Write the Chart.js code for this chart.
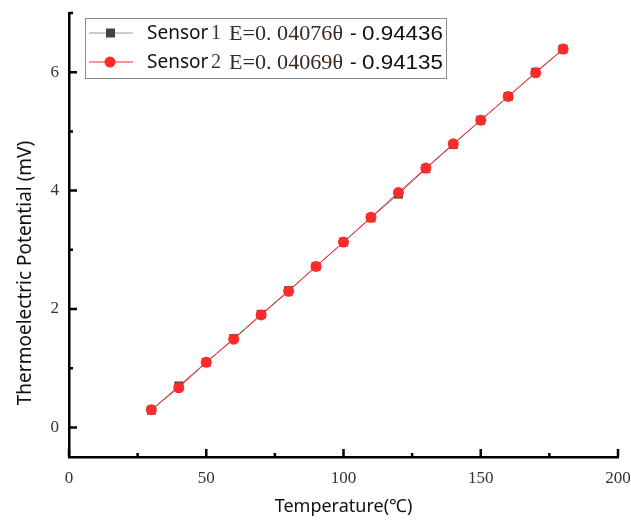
<!DOCTYPE html>
<html>
<head>
<meta charset="utf-8">
<script src="https://cdn.jsdelivr.net/npm/chart.js@4.4.1/dist/chart.umd.min.js"></script>
<style>
  html, body { margin: 0; padding: 0; background: #fff; }
  #wrap { width: 631px; height: 521px; }
</style>
</head>
<body>
<div id="wrap"><canvas id="Chart" width="631" height="521"></canvas></div>
<script>
// data
const temperatures = [30, 40, 50, 60, 70, 80, 90, 100, 110, 120, 130, 140, 150, 160, 170, 180];
const sensor1 = [0.29, 0.70, 1.10, 1.50, 1.91, 2.31, 2.72, 3.13, 3.54, 3.94, 4.37, 4.78, 5.19, 5.59, 6.00, 6.39];
const sensor2 = [0.30, 0.67, 1.10, 1.49, 1.90, 2.30, 2.72, 3.13, 3.55, 3.97, 4.38, 4.79, 5.19, 5.59, 5.99, 6.39];

// tick labels
const xTicks = [0, 50, 100, 150, 200];
const xMinorTicks = [25, 75, 125, 175];
const yTicks = [0, 2, 4, 6];
const yMinorTicks = [1, 3, 5, 7];

// legend texts
const seriesNames = ['Sensor', 'Sensor'];
const seriesNumbers = ['1', '2'];
const fitHeads = ['E=0. 04076θ', 'E=0. 04069θ'];
const fitTails = ['0.94436', '0.94135'];
const yTitle = 'Thermoelectric Potential (mV)';

const gray = '#444444';
const red = '#ff2a2a';
const serif = '"Liberation Serif", "Times New Roman", serif';
const sans = '"Noto Sans", "Noto Sans CJK SC", sans-serif';

// draw the text stretched/squeezed to a given width
function fitText(ctx, text, x, y, width) {
    const w = ctx.measureText(text).width;
    const k = width / w;
    ctx.save();
    ctx.translate(x, y);
    ctx.scale(k, 1);
    ctx.fillText(text, 0, 0);
    ctx.restore();
}

// ticks pointing into the plot (Origin style) + y title
const inwardTicks = {
    id: 'inwardTicks',
    afterDraw(chart) {
        const ctx = chart.ctx;
        const xs = chart.scales.x, ys = chart.scales.y;
        const area = chart.chartArea;
        ctx.save();
        ctx.strokeStyle = '#000';
        ctx.lineWidth = 2.5;
        ctx.beginPath();
        xTicks.forEach(v => {
            const px = xs.getPixelForValue(v);
            ctx.moveTo(px, area.bottom); ctx.lineTo(px, area.bottom - 8);
        });
        xMinorTicks.forEach(v => {
            const px = xs.getPixelForValue(v);
            ctx.moveTo(px, area.bottom); ctx.lineTo(px, area.bottom - 4);
        });
        yTicks.forEach(v => {
            const py = ys.getPixelForValue(v);
            ctx.moveTo(area.left, py); ctx.lineTo(area.left + 8, py);
        });
        yMinorTicks.forEach(v => {
            const py = ys.getPixelForValue(v);
            ctx.moveTo(area.left, py); ctx.lineTo(area.left + 4, py);
        });
        ctx.stroke();

        // y axis title (sits a bit lower than the axis centre in the original)
        ctx.translate(26, 273);
        ctx.rotate(-Math.PI / 2);
        ctx.fillStyle = '#111';
        ctx.font = '19px ' + sans;
        ctx.textAlign = 'center';
        ctx.textBaseline = 'middle';
        ctx.fillText(yTitle, 0, 0);
        ctx.restore();
    }
};

// legend box inside the plot
const boxLegend = {
    id: 'boxLegend',
    afterDraw(chart) {
        const ctx = chart.ctx;
        const bx = 85.5, by = 18.5, bw = 361, bh = 60;
        const rows = [33, 62];
        ctx.save();
        ctx.fillStyle = '#fff';
        ctx.fillRect(bx, by, bw, bh);
        ctx.strokeStyle = '#8a8a8a';
        ctx.lineWidth = 1;
        ctx.strokeRect(bx, by, bw, bh);

        rows.forEach((ry, i) => {
            // sample line + marker
            ctx.strokeStyle = i === 0 ? '#9a9a9a' : red;
            ctx.lineWidth = 1;
            ctx.beginPath();
            ctx.moveTo(89, ry); ctx.lineTo(133, ry);
            ctx.stroke();
            ctx.fillStyle = i === 0 ? gray : red;
            if (i === 0) {
                ctx.fillRect(106, ry - 4.5, 9, 9);
            } else {
                ctx.beginPath();
                ctx.arc(110, ry, 5.5, 0, Math.PI * 2);
                ctx.fill();
            }

            ctx.textBaseline = 'middle';
            ctx.fillStyle = '#111';
            ctx.font = '19px ' + sans;
            ctx.fillText(seriesNames[i], 147, ry + 1);
            ctx.fillStyle = '#4a3020';
            ctx.font = '20px ' + serif;
            ctx.fillText(seriesNumbers[i], 211, ry + 1);
            ctx.fillStyle = '#3a2a20';
            ctx.font = '21px ' + serif;
            fitText(ctx, fitHeads[i], 229, ry + 1, 114);
            ctx.fillStyle = '#111';
            ctx.font = '20px "Liberation Sans", Arial, sans-serif';
            ctx.fillText('-', 350, ry + 1);
            fitText(ctx, fitTails[i], 362, ry + 1, 81);
        });
        ctx.restore();
    }
};

const ctx = document.getElementById('Chart').getContext('2d');
const myChart = new Chart(ctx, {
    type: 'line',
    data: {
        labels: temperatures,
        datasets: [
            {
                label: 'Sensor 1',
                data: temperatures.map((t, i) => ({ x: t, y: sensor1[i] })),
                borderColor: '#666666',
                borderWidth: 1,
                pointStyle: 'rect',
                pointRadius: 6.3,
                pointBackgroundColor: gray,
                pointBorderColor: gray,
                pointBorderWidth: 0,
                order: 2
            },
            {
                label: 'Sensor 2',
                data: temperatures.map((t, i) => ({ x: t, y: sensor2[i] })),
                borderColor: red,
                borderWidth: 1,
                pointStyle: 'circle',
                pointRadius: 5.5,
                pointBackgroundColor: red,
                pointBorderColor: red,
                pointBorderWidth: 0,
                order: 1
            }
        ]
    },
    options: {
        responsive: false,
        animation: false,
        layout: { padding: { top: 13, right: 13, left: 0, bottom: 0 } },
        elements: { line: { tension: 0 } },
        plugins: {
            legend: { display: false },
            tooltip: { enabled: false }
        },
        scales: {
            x: {
                type: 'linear',
                position: 'bottom',
                min: 0,
                max: 200,
                grid: { display: false, drawTicks: false },
                border: { display: true, width: 2.5, color: '#000' },
                ticks: { color: '#333', font: { family: serif, size: 17 }, padding: 11 },
                title: {
                    display: true,
                    text: 'Temperature(℃)',
                    color: '#111',
                    font: { family: sans, size: 18 },
                    padding: { top: 0, bottom: 3 }
                },
                afterBuildTicks: s => { s.ticks = xTicks.map(v => ({ value: v })); },
                afterFit: s => { s.height = 64; s.paddingLeft = 0; s.paddingRight = 0; }
            },
            y: {
                type: 'linear',
                min: -0.5,
                max: 7,
                grid: { display: false, drawTicks: false },
                border: { display: true, width: 2.5, color: '#000' },
                ticks: { color: '#333', font: { family: serif, size: 17 }, padding: 10 },
                afterBuildTicks: s => { s.ticks = yTicks.map(v => ({ value: v })); },
                afterFit: s => { s.width = 69; s.paddingTop = 0; s.paddingBottom = 0; }
            }
        }
    },
    plugins: [inwardTicks, boxLegend]
});
</script>
</body>
</html>
